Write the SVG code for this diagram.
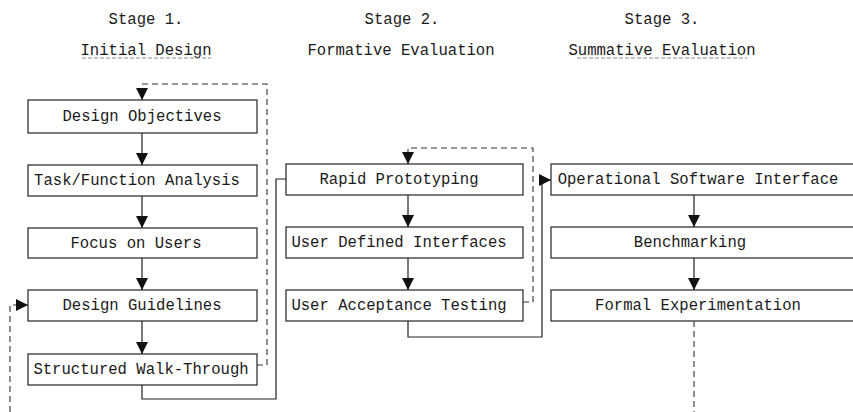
<svg xmlns="http://www.w3.org/2000/svg" width="853" height="412" viewBox="0 0 853 412">
<defs>
<style>
.box{fill:#fff;stroke:#222;stroke-width:1.2}
.t{font-family:"Liberation Mono","DejaVu Sans Mono",monospace;font-size:15.6px;fill:#1a1a1a;text-anchor:middle}
.solid{fill:none;stroke:#222;stroke-width:1.2}
.dash{fill:none;stroke:#333;stroke-width:1.1;stroke-dasharray:6 4}
.ul{stroke:#888;stroke-width:1;stroke-dasharray:4 2}
</style>
<marker id="ah" markerUnits="userSpaceOnUse" markerWidth="13" markerHeight="12" refX="12" refY="6" orient="auto">
<path d="M0,0 L12,6 L0,12 z" fill="#111"/>
</marker>
</defs>
<rect width="853" height="412" fill="#fff"/>
<g id="headers">
<text class="t" x="146" y="24">Stage 1.</text>
<text class="t" x="146" y="55">Initial Design</text>
<line class="ul" x1="82" y1="58" x2="211" y2="58"/>
<text class="t" x="402" y="24">Stage 2.</text>
<text class="t" x="401" y="55">Formative Evaluation</text>
<text class="t" x="662" y="24">Stage 3.</text>
<text class="t" x="662" y="55">Summative Evaluation</text>
<line class="ul" x1="577" y1="58" x2="747" y2="58"/>
</g>
<g id="connectors">
<path class="solid" d="M142,133 V165" marker-end="url(#ah)"/>
<path class="solid" d="M142,196 V228" marker-end="url(#ah)"/>
<path class="solid" d="M142,258 V290" marker-end="url(#ah)"/>
<path class="solid" d="M142,321 V354" marker-end="url(#ah)"/>
<path class="dash" d="M257,365 H267 V84 H142 V100" marker-end="url(#ah)"/>
<path class="solid" d="M142,385 V399 H276 V179 H286"/>
<path class="dash" d="M10,412 V305 H28" marker-end="url(#ah)"/>
<path class="solid" d="M408,195 V227" marker-end="url(#ah)"/>
<path class="solid" d="M408,258 V290" marker-end="url(#ah)"/>
<path class="dash" d="M523,302 H533 V148 H408 V164" marker-end="url(#ah)"/>
<path class="solid" d="M408,321 V337 H542 V180 H551" marker-end="url(#ah)"/>
<path class="solid" d="M694,195 V227" marker-end="url(#ah)"/>
<path class="solid" d="M694,258 V290" marker-end="url(#ah)"/>
<path class="dash" d="M694,321 V412"/>
</g>
<g id="design-objectives"><rect class="box" x="28" y="100" width="229" height="33"/><text class="t" x="142" y="121">Design Objectives</text></g>
<g id="task-function-analysis"><rect class="box" x="28" y="165" width="229" height="31"/><text class="t" x="137" y="185">Task/Function Analysis</text></g>
<g id="focus-on-users"><rect class="box" x="28" y="228" width="229" height="30"/><text class="t" x="136" y="248">Focus on Users</text></g>
<g id="design-guidelines"><rect class="box" x="28" y="290" width="229" height="31"/><text class="t" x="142" y="310">Design Guidelines</text></g>
<g id="structured-walk-through"><rect class="box" x="28" y="354" width="229" height="31"/><text class="t" x="141" y="374">Structured Walk-Through</text></g>
<g id="rapid-prototyping"><rect class="box" x="286" y="164" width="237" height="31"/><text class="t" x="399" y="184">Rapid Prototyping</text></g>
<g id="user-defined-interfaces"><rect class="box" x="286" y="227" width="237" height="31"/><text class="t" x="399" y="247">User Defined Interfaces</text></g>
<g id="user-acceptance-testing"><rect class="box" x="286" y="290" width="237" height="31"/><text class="t" x="399" y="310">User Acceptance Testing</text></g>
<g id="operational-software-interface"><rect class="box" x="551" y="164" width="320" height="31"/><text class="t" x="698" y="184">Operational Software Interface</text></g>
<g id="benchmarking"><rect class="box" x="551" y="227" width="320" height="31"/><text class="t" x="690" y="247">Benchmarking</text></g>
<g id="formal-experimentation"><rect class="box" x="551" y="290" width="320" height="31"/><text class="t" x="698" y="310">Formal Experimentation</text></g>
</svg>
